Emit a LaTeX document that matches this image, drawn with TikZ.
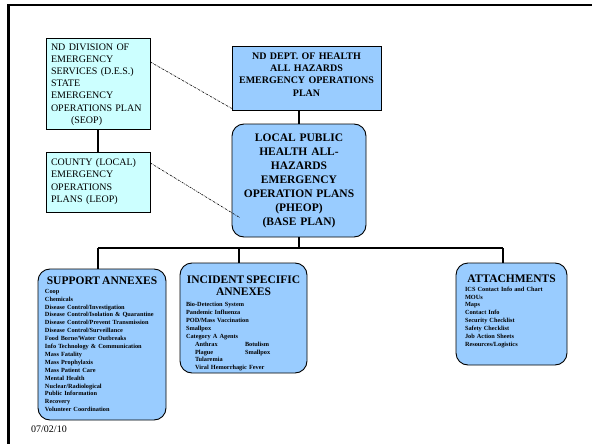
\documentclass[tikz,border=0pt]{standalone}
\usepackage{fontspec}
\setmainfont{Liberation Serif}[BoldFont={Liberation Serif Bold}]
\definecolor{pcyan}{RGB}{204,255,255}
\definecolor{pblue}{RGB}{153,204,255}
\tikzset{
  cybox/.style={draw=black, line width=0.8pt, fill=pcyan, rectangle, inner sep=0pt},
  bluebox/.style={draw=black, line width=0.8pt, fill=pblue, rectangle, inner sep=0pt},
  roundbox/.style={draw=black, line width=0.9pt, fill=pblue, rounded corners=12pt, inner sep=0pt},
  cytext/.style={inner sep=0pt, font=\fontsize{10}{12.2}\selectfont, align=left},
  boldtext/.style={inner sep=0pt, font=\fontsize{10}{12.3}\selectfont\bfseries, align=center},
  bigbold/.style={inner sep=0pt, font=\fontsize{11.5}{14}\selectfont\bfseries, align=center},
  itemtext/.style={inner sep=0pt, font=\fontsize{6.3}{7.9}\selectfont\bfseries, align=left},
  conn/.style={draw=black, line width=1.1pt},
  dotconn/.style={draw=black, line width=0.6pt, dash pattern=on 2pt off 1pt on 0.6pt off 1pt}
}
\begin{document}
\begin{tikzpicture}[x=1pt,y=-1pt]
\useasboundingbox (0,0) rectangle (592,444);
% frame
\draw[line width=2.4pt] (8.5,444) -- (8.5,5) -- (592,5);

% boxes
\node[cybox, minimum width=104pt, minimum height=91pt] (seop) at (98,83.5) {};
\node[cybox, minimum width=104pt, minimum height=60pt] (county) at (98,182) {};
\node[bluebox, minimum width=149pt, minimum height=64pt] (nd) at (306.5,78) {};
\node[roundbox, minimum width=134pt, minimum height=113pt] (ph) at (299,180.5) {};
\node[roundbox, minimum width=128pt, minimum height=151pt] (sup) at (102,344.5) {};
\node[roundbox, minimum width=127pt, minimum height=110pt] (inc) at (243.5,318) {};
\node[roundbox, minimum width=111pt, minimum height=102pt] (att) at (511.5,314) {};

% texts
\node[cytext, text width=94pt] (seopT) at (98,84.5)
  {ND DIVISION OF\\EMERGENCY\\SERVICES (D.E.S.)\\STATE\\EMERGENCY\\OPERATIONS PLAN\\\hspace*{20pt}(SEOP)};
\node[cytext, text width=94pt] (countyT) at (98,181.5)
  {COUNTY (LOCAL)\\EMERGENCY\\OPERATIONS\\PLANS (LEOP)};
\node[boldtext, text width=145pt] (ndT) at (306.5,74.5)
  {ND DEPT. OF HEALTH\\ALL HAZARDS\\EMERGENCY OPERATIONS\\PLAN};
\node[bigbold, text width=130pt] (phT) at (299,181)
  {LOCAL PUBLIC\\HEALTH ALL-\\HAZARDS\\EMERGENCY\\OPERATION PLANS\\(PHEOP)\\(BASE PLAN)};

\node[itemtext, text width=114pt] (supT) at (102,344.5)
  {{\centering\fontsize{11.5}{12}\selectfont SUPPORT ANNEXES\par}\vspace{0.5pt}
   Coop\\Chemicals\\Disease Control/Investigation\\Disease Control/Isolation \& Quarantine\\
   Disease Control/Prevent Transmission\\Disease Control/Surveillance\\Food Borne/Water Outbreaks\\
   Info Technology \& Communication\\Mass Fatality\\Mass Prophylaxis\\Mass Patient Care\\
   Mental Health\\Nuclear/Radiological\\Public Information\\Recovery\\Volunteer Coordination};

\node[itemtext, text width=115pt] (incT) at (243.5,323.5)
  {{\centering\fontsize{11.5}{12.3}\selectfont INCIDENT SPECIFIC\\ANNEXES\par}\vspace{3pt}
   Bio-Detection System\\Pandemic Influenza\\POD/Mass Vaccination\\Smallpox\\Category A Agents\\
   \hspace*{9pt}\makebox[50pt][l]{Anthrax}Botulism\\
   \hspace*{9pt}\makebox[50pt][l]{Plague}Smallpox\\
   \hspace*{9pt}Tularemia\\
   \hspace*{9pt}Viral Hemorrhagic Fever};

\node[itemtext, text width=93pt] (attT) at (511.5,311.5)
  {{\centering\fontsize{11.5}{12}\selectfont ATTACHMENTS\par}\vspace{0.5pt}
   ICS Contact Info and Chart\\MOUs\\Maps\\Contact Info\\Security Checklist\\Safety Checklist\\
   Job Action Sheets\\Resources/Logistics};

% date
\node[font=\fontsize{10}{12}\selectfont, anchor=west, inner sep=0pt] (date) at (31,429) {07/02/10};

% connectors
\coordinate (busL) at (98,248);
\coordinate (busR) at (503,248);
\coordinate (busM) at (239,248);
\draw[conn] (seop.south) -- (county.north);
\draw[conn] (ph.north) -- (ph.north |- nd.south);
\draw[conn] (ph.south) -- (ph.south |- busL);
\draw[conn] (busL) -- (busR);
\draw[conn] (busL) -- (busL |- sup.north);
\draw[conn] (busM) -- (busM |- inc.north);
\draw[conn] (busR) -- (busR |- att.north);
\draw[dotconn] ([yshift=21.5pt]seop.east) -- ([yshift=2pt]nd.south west);
\draw[dotconn] ([yshift=19pt]county.east) -- ([xshift=8pt,yshift=20pt]ph.south west);
\end{tikzpicture}
\end{document}
